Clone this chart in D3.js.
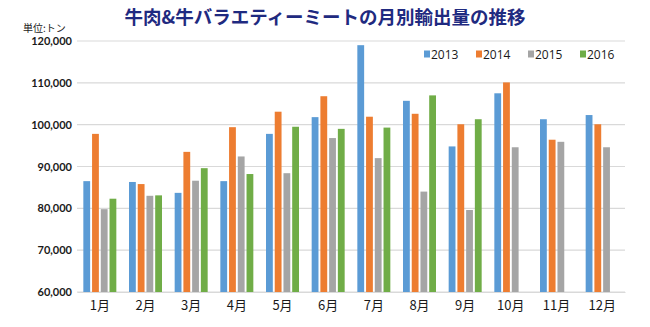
<!DOCTYPE html>
<html><head><meta charset="utf-8">
<script src="https://cdn.jsdelivr.net/npm/d3@7"></script>
<style>body{margin:0;background:#fff}svg{display:block}</style>
</head><body>
<script>
const months = ["1月","2月","3月","4月","5月","6月","7月","8月","9月","10月","11月","12月"];
const seriesNames = ["2013","2014","2015","2016"];
const v2013 = [86500,86300,83700,86500,97800,101800,119000,105700,94800,107500,101300,102300];
const v2014 = [97800,85800,93500,99400,103100,106800,101900,102600,100100,110100,96400,100100];
const v2015 = [79800,83000,86600,92400,88400,96800,92000,84000,79600,94600,95900,94600];
const v2016 = [82300,83100,89600,88200,99500,99000,99300,107000,101300,null,null,null];
const yTicks = [60000,70000,80000,90000,100000,110000,120000];
const colors = ["#5b9bd5","#ed7d31","#a5a5a5","#70ad47"];
const title = "牛肉&牛バラエティーミートの月別輸出量の推移";
const unitLabel = "単位:トン";

const W = 650, H = 327;
const svg = d3.select("body").append("svg").attr("width", W).attr("height", H);
const pL = 77, pR = 625, pT = 41, pB = 292;

const x = d3.scaleBand().domain(months).range([pL, pR]).paddingInner(0).paddingOuter(0);
const y = d3.scaleLinear().domain([60000, 120000]).range([pB, pT]);
const x1 = d3.scaleBand().domain(seriesNames).range([0, 33]).paddingInner(0.22);

// grid
svg.append("g").selectAll("line").data(yTicks).join("line")
  .attr("x1", pL).attr("x2", pR)
  .attr("y1", d => y(d)).attr("y2", d => y(d))
  .attr("stroke", "#d9d9d9").attr("stroke-width", 1.2);

// y axis labels
const yAxis = d3.axisLeft(y).tickValues(yTicks).tickSize(0).tickPadding(5)
  .tickFormat(d3.format(","));
const gy = svg.append("g").attr("transform", `translate(${pL},0)`).call(yAxis);
gy.select(".domain").remove();
gy.selectAll("text").attr("font-family", "Lato, 'Open Sans', sans-serif")
  .attr("font-size", 11).attr("font-weight", "bold").attr("fill", "#1a1a1a");

// bars
const series = [v2013, v2014, v2015, v2016];
const data = [];
months.forEach((m, i) => series.forEach((s, j) => {
  if (s[i] != null) data.push({m, name: seriesNames[j], v: s[i], c: colors[j]});
}));
svg.append("g").selectAll("rect").data(data).join("rect")
  .attr("x", d => x(d.m) + (x.bandwidth() - 33) / 2 + x1(d.name))
  .attr("width", x1.bandwidth())
  .attr("y", d => y(d.v))
  .attr("height", d => pB - y(d.v))
  .attr("fill", d => d.c);

// x axis
const xAxis = d3.axisBottom(x).tickSize(0).tickPadding(9);
const gx = svg.append("g").attr("transform", `translate(0,${pB})`).call(xAxis);
gx.select(".domain").attr("stroke", "#d9d9d9").attr("stroke-width", 1.2);
gx.selectAll("text").attr("font-family", "'Noto Sans CJK JP', sans-serif")
  .attr("font-size", 13).attr("fill", "#1a1a1a");

// title
svg.append("text").attr("x", 325).attr("y", 24).attr("text-anchor", "middle")
  .attr("font-family", "'Noto Sans CJK JP', sans-serif").attr("font-weight", "bold")
  .attr("font-size", 18.5).attr("fill", "#1f2a80").text(title);

svg.append("text").attr("x", 23).attr("y", 32)
  .attr("font-family", "'Noto Sans CJK JP', sans-serif")
  .attr("font-size", 10).attr("fill", "#1a1a1a").text(unitLabel);

// legend
const lg = svg.append("g").selectAll("g").data(seriesNames).join("g")
  .attr("transform", (d, i) => `translate(${424 + i * 52},54)`);
lg.append("rect").attr("x", 0).attr("y", -3.5).attr("width", 6).attr("height", 7)
  .attr("fill", (d, i) => colors[i]);
lg.append("text").attr("x", 7).attr("y", 4.5).text(d => d)
  .attr("font-family", "'Open Sans', sans-serif").attr("font-size", 12).attr("fill", "#1a1a1a");
</script>
</body></html>
